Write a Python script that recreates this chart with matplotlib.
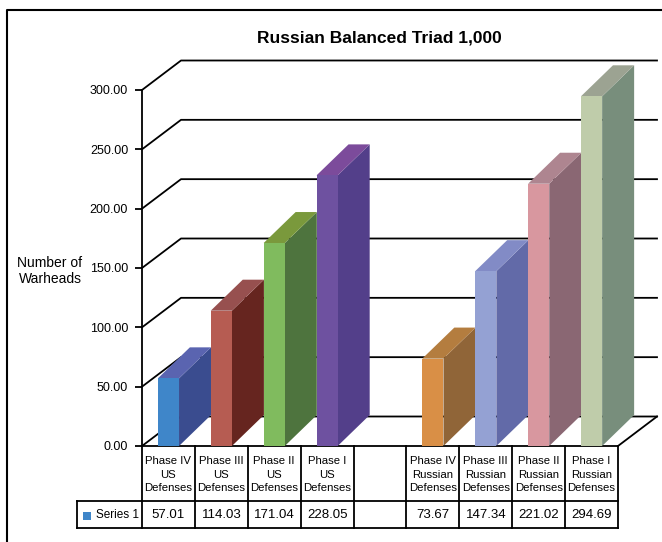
# plot.py
# Russian Balanced Triad 1,000 - 3D style column chart with data table

# Imports --------------------------------------------

import matplotlib
matplotlib.use('Agg')
from matplotlib import pyplot as plt
from matplotlib.patches import Polygon

plt.rcParams['font.family'] = ['Liberation Sans', 'DejaVu Sans']

# Data --------------------------------------------

titleText = 'Russian Balanced Triad 1,000'
yLabel = 'Number of\nWarheads'
seriesName = 'Series 1'
categories = ['Phase IV\nUS\nDefenses', 'Phase III\nUS\nDefenses',
              'Phase II\nUS\nDefenses', 'Phase I\nUS\nDefenses', '',
              'Phase IV\nRussian\nDefenses', 'Phase III\nRussian\nDefenses',
              'Phase II\nRussian\nDefenses', 'Phase I\nRussian\nDefenses']
values = [57.01, 114.03, 171.04, 228.05, None, 73.67, 147.34, 221.02, 294.69]
yTicks = [0, 50, 100, 150, 200, 250, 300]

frontColors = ['#3f86c9', '#b65c52', '#80bb5e', '#6e51a0', None,
               '#d98f46', '#94a1d3', '#d8979f', '#bfccaa']
sideColors = ['#3a4c8f', '#66251f', '#4e743e', '#533f8a', None,
              '#906538', '#626aa8', '#8a6773', '#788e7c']
topColors = ['#5a64b0', '#97504f', '#7a993c', '#7c4b9b', None,
             '#b47d3f', '#828bc6', '#ae8590', '#9ca392']
legendColor = '#3f86c9'

# Layout (pixels) --------------------------------------------

W, H = 662, 542
plotL, plotR = 142, 618      # front plane, x
plotT, plotB = 90, 446       # front plane, y for 300 and 0
floorDxPx, floorDyPx = 39, 29.5
barDxPx, barDyPx = 32, 31
barWidth = 0.4
headBot, rowBot = 501, 528
rowLabelL = 77

nCat = len(categories)
pxPerCat = (plotR - plotL) / nCat
pxPerVal = (plotB - plotT) / (yTicks[-1] - yTicks[0])
fdx, fdy = floorDxPx / pxPerCat, floorDyPx / pxPerVal
bdx, bdy = barDxPx / pxPerCat, barDyPx / pxPerVal

# Figure --------------------------------------------

fig = plt.figure(figsize=(W / 100, H / 100), dpi=100)

# overlay in pixel space for frame, titles and table
ov = fig.add_axes([0, 0, 1, 1])
ov.set_xlim(0, W)
ov.set_ylim(H, 0)
ov.axis('off')
ov.plot([7, 7, W], [H, 10, 10], color='black', lw=1.5)
ov.text(379, 38, titleText, ha='center', va='center', fontsize=12.5, fontweight='bold')
ov.text(50, 271, yLabel, ha='center', va='center', fontsize=10, linespacing=1.15)

# main axes: category index vs warheads
ax = fig.add_axes([plotL / W, 1 - plotB / H, (plotR - plotL) / W, (plotB - plotT) / H])
ax.set_xlim(0, nCat)
ax.set_ylim(yTicks[0], yTicks[-1])
ax.patch.set_visible(False)
for s in ['top', 'right', 'bottom']:
    ax.spines[s].set_visible(False)
ax.spines['left'].set_linewidth(1.3)
ax.set_xticks([])
ax.set_yticks(yTicks)
ax.set_yticklabels(['%.2f' % v for v in yTicks], fontsize=9)
ax.tick_params(axis='y', length=5, width=1.3, pad=5)

# back wall gridlines with diagonals to the front axis
for v in yTicks:
    ax.plot([0, fdx, nCat + fdx], [v, v + fdy, v + fdy], color='black', lw=1.3,
            clip_on=False, zorder=1)
ax.plot([nCat, nCat + fdx], [0, fdy], color='black', lw=1.3, clip_on=False, zorder=1)

# bars: side, top and front faces
xs = [i + 0.5 for i, v in enumerate(values) if v is not None]
hs = [v for v in values if v is not None]
fcs = [c for c in frontColors if c is not None]
scs = [c for c in sideColors if c is not None]
tcs = [c for c in topColors if c is not None]
for x, h, sc, tc in zip(xs, hs, scs, tcs):
    x0, x1 = x - barWidth / 2, x + barWidth / 2
    side = Polygon([(x1, 0), (x1 + bdx, bdy), (x1 + bdx, h + bdy), (x1, h)],
                   closed=True, facecolor=sc, edgecolor='none', clip_on=False, zorder=3)
    top = Polygon([(x0, h), (x1, h), (x1 + bdx, h + bdy), (x0 + bdx, h + bdy)],
                  closed=True, facecolor=tc, edgecolor='none', clip_on=False, zorder=3)
    ax.add_patch(side)
    ax.add_patch(top)
ax.bar(xs, hs, width=barWidth, color=fcs, zorder=4, clip_on=False)

# data table --------------------------------------------

edges = [plotL + i * pxPerCat for i in range(nCat + 1)]
lw = 1.3
ov.plot([plotL, plotR], [plotB, plotB], color='black', lw=lw)
ov.plot([rowLabelL, plotR], [headBot, headBot], color='black', lw=lw)
ov.plot([rowLabelL, plotR], [rowBot, rowBot], color='black', lw=lw)
ov.plot([rowLabelL, rowLabelL], [headBot, rowBot], color='black', lw=lw)
for e in edges:
    ov.plot([e, e], [plotB, rowBot], color='black', lw=lw)
for i, (cat, v) in enumerate(zip(categories, values)):
    cx = (edges[i] + edges[i + 1]) / 2
    ov.text(cx, (plotB + headBot) / 2 + 1, cat, ha='center', va='center',
            fontsize=8.2, linespacing=1.45)
    if v is not None:
        ov.text(cx, (headBot + rowBot) / 2 + 1, '%.2f' % v, ha='center', va='center',
                fontsize=9.5)
ov.add_patch(plt.Rectangle((82.5, 511.5), 8, 8, facecolor=legendColor, edgecolor='none'))
ov.text(96, (headBot + rowBot) / 2 + 1, seriesName, ha='left', va='center', fontsize=8.5)

fig.savefig('out.png', dpi=100)
